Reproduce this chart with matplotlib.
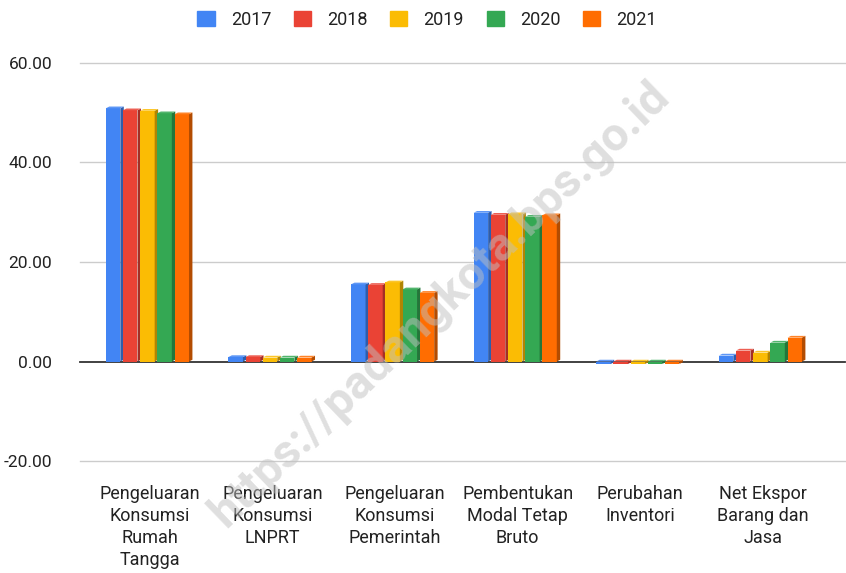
import numpy as np
import matplotlib.pyplot as plt
from matplotlib.patches import Polygon
from matplotlib.colors import to_rgb

plt.rcParams['font.family'] = ['Roboto', 'DejaVu Sans']

kategori = ['Pengeluaran\nKonsumsi\nRumah\nTangga', 'Pengeluaran\nKonsumsi\nLNPRT',
            'Pengeluaran\nKonsumsi\nPemerintah', 'Pembentukan\nModal Tetap\nBruto',
            'Perubahan\nInventori', 'Net Ekspor\nBarang dan\nJasa']
tahun = ['2017', '2018', '2019', '2020', '2021']
nilai_2017 = [50.9, 0.9, 15.5, 29.9, -0.5, 1.2]
nilai_2018 = [50.5, 0.9, 15.4, 29.5, -0.5, 2.2]
nilai_2019 = [50.4, 0.8, 15.9, 29.6, -0.5, 1.8]
nilai_2020 = [49.9, 0.8, 14.5, 29.1, -0.5, 3.8]
nilai_2021 = [49.7, 0.8, 13.8, 29.4, -0.5, 4.8]
semua = [nilai_2017, nilai_2018, nilai_2019, nilai_2020, nilai_2021]
warna = ['#4285F4', '#EA4335', '#FBBC04', '#34A853', '#FF6D01']
yticks = [-20, 0, 20, 40, 60]

fig = plt.figure(figsize=(8.46, 5.73), dpi=100)
ax = fig.add_axes([80 / 846, 112 / 573, 765 / 846, 398 / 573])

x = np.arange(len(kategori))
lebar = 0.118
jarak = 0.14
dx = 0.028   # kedalaman 3D (sumbu x)
dy = 0.35    # kedalaman 3D (sumbu y)

def gelap(c, f):
    r, g, b = to_rgb(c)
    return (r * f, g * f, b * f)

def terang(c, f):
    r, g, b = to_rgb(c)
    return (r + (1 - r) * f, g + (1 - g) * f, b + (1 - b) * f)

for i, (vals, c) in enumerate(zip(semua, warna)):
    pos = x + (i - 2) * jarak - 0.02
    bars = ax.bar(pos, vals, lebar, color=c, zorder=3, clip_on=False)
    for b in bars:
        x0 = b.get_x()
        x1 = x0 + b.get_width()
        y0 = min(0, b.get_height())
        y1 = max(0, b.get_height())
        side = Polygon([(x1, y0), (x1 + dx, y0 + dy), (x1 + dx, y1 + dy), (x1, y1)],
                       closed=True, facecolor=gelap(c, 0.7), edgecolor='none', zorder=3, clip_on=False)
        top = Polygon([(x0, y1), (x0 + dx, y1 + dy), (x1 + dx, y1 + dy), (x1, y1)],
                      closed=True, facecolor=terang(c, 0.15), edgecolor='none', zorder=3, clip_on=False)
        ax.add_patch(side)
        ax.add_patch(top)

ax.set_xlim(-0.57, 5.67)
ax.set_ylim(-20, 60)
ax.set_yticks(yticks)
ax.set_yticklabels(['%.2f' % v for v in yticks], fontsize=12.5, color='#222222')
ax.tick_params(axis='y', length=0, pad=20)
ax.set_xticks(x)
ax.set_xticklabels(kategori, fontsize=13, color='#222222', linespacing=1.3, va='top')
ax.tick_params(axis='x', length=0, pad=17)
for v in yticks:
    if v == 0:
        ax.axhline(v, color='#333333', linewidth=1.3, zorder=2, clip_on=False)
    else:
        ax.axhline(v, color='#cccccc', linewidth=1, zorder=0, clip_on=False)
for s in ax.spines.values():
    s.set_visible(False)

handles = [plt.Rectangle((0, 0), 1, 1, color=c) for c in warna]
fig.legend(handles, tahun, loc='upper center', bbox_to_anchor=(0.505, 1.01), ncol=5, frameon=False,
           fontsize=13, handlelength=0.95, handleheight=0.95, columnspacing=1.25, handletextpad=0.9,
           labelcolor='#222222')

fig.text(0.52, 0.47, 'https://padangkota.bps.go.id', fontsize=34, color='#c0c0c0', alpha=0.5,
         rotation=44, ha='center', va='center', fontweight='bold', zorder=10)

fig.savefig('out.png', dpi=100)
